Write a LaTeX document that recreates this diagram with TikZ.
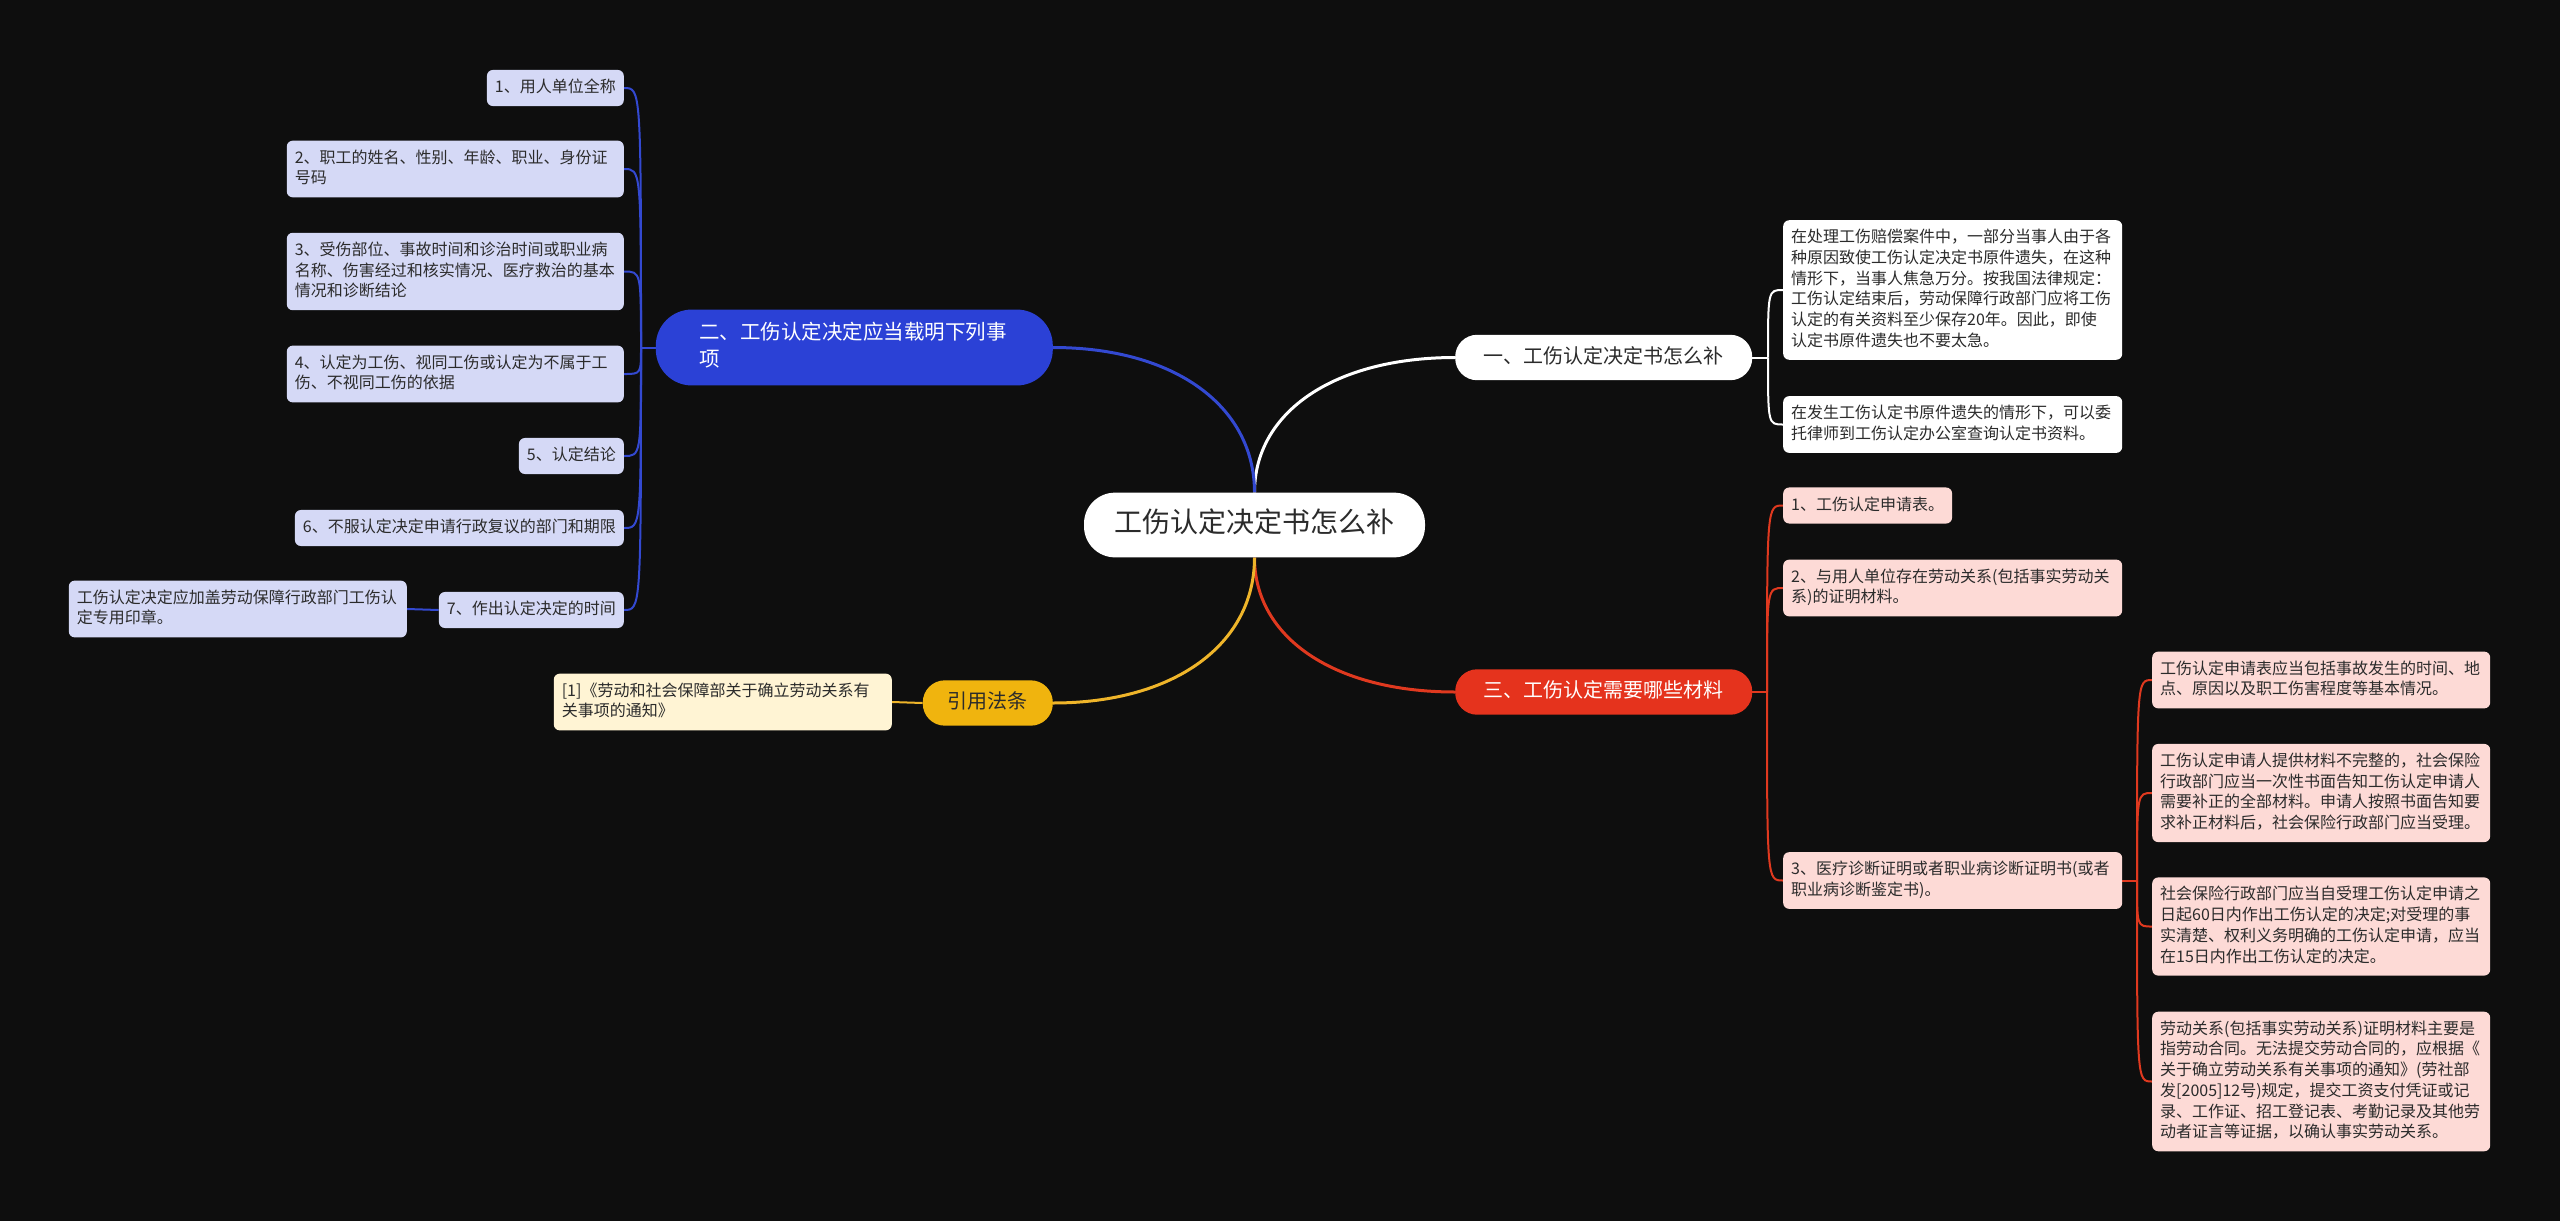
\documentclass[tikz,border=0pt]{standalone}
\usepackage{fontspec}
\setmainfont{Noto Sans CJK SC}
\usetikzlibrary{backgrounds}
\definecolor{bg}{HTML}{0E0E0E}
\definecolor{blueN}{HTML}{2B41D6}
\definecolor{blueL}{HTML}{3349D1}
\definecolor{lav}{HTML}{D5D9F6}
\definecolor{redN}{HTML}{E5331D}
\definecolor{redL}{HTML}{E0391F}
\definecolor{pink}{HTML}{FDDAD6}
\definecolor{yelN}{HTML}{F0B40E}
\definecolor{yelL}{HTML}{EFB52A}
\definecolor{cream}{HTML}{FFF4D4}
\definecolor{txt}{HTML}{2B2B2B}
\newcommand\lfstrut{\rule[-4.5pt]{0pt}{18pt}}
\newcommand\tpstrut{\rule[-5.5pt]{0pt}{22pt}}
\newcommand\rtstrut{\rule[-8pt]{0pt}{31pt}}
\tikzset{
  leaf/.style={rounded corners=6pt, inner xsep=8pt, inner ysep=9pt, text=txt,
    font=\fontsize{16}{20.7}\selectfont,
    execute at begin node=\lfstrut, execute at end node=\lfstrut},
  wbox/.style={text width=#1, align=left},
  topn/.style={rounded corners=22pt, inner xsep=28.5pt, inner ysep=11.5pt,
    font=\fontsize{20}{27}\selectfont,
    execute at begin node=\tpstrut, execute at end node=\tpstrut},
  mainline/.style={line width=3pt},
  subline/.style={line width=2pt},
}
\begin{document}
\begin{tikzpicture}[x=1pt,y=-1pt]
\useasboundingbox (0,0) rectangle (2560,1221);

% root
\node[fill=white, text=txt, rounded corners=31pt, minimum width=341pt, inner xsep=0pt, inner ysep=16.5pt,
  font=\fontsize{28}{34}\selectfont, execute at begin node=\rtstrut] (root) at (1254.5,525) {工伤认定决定书怎么补};

% level 1
\node[topn, fill=white, text=txt, anchor=west] (n1) at (1455,357.5) {一、工伤认定决定书怎么补};
\node[anchor=east, fill=blueN, text=white, text width=310pt, align=left, inner xsep=43.5pt, inner ysep=13pt,
  font=\fontsize{20.5}{27}\selectfont, rounded corners=36pt,
  execute at begin node=\tpstrut, execute at end node=\tpstrut] (n2) at (1053,347.5) {二、工伤认定决定应当载明下列事\\项};
\node[topn, fill=redN, text=white, anchor=west] (n3) at (1455,692) {三、工伤认定需要哪些材料};
\node[topn, fill=yelN, text=txt, anchor=east, inner xsep=25pt] (n4) at (1053,703) {引用法条};

% left leaves
\node[leaf, fill=lav, anchor=east] (l1) at (624,88) {1、用人单位全称};
\node[leaf, fill=lav, anchor=east, wbox=321pt] (l2) at (624,169) {2、职工的姓名、性别、年龄、职业、身份证\\号码};
\node[leaf, fill=lav, anchor=east, wbox=321pt] (l3) at (624,271.5) {3、受伤部位、事故时间和诊治时间或职业病\\名称、伤害经过和核实情况、医疗救治的基本\\情况和诊断结论};
\node[leaf, fill=lav, anchor=east, wbox=321pt] (l4) at (624,374) {4、认定为工伤、视同工伤或认定为不属于工\\伤、不视同工伤的依据};
\node[leaf, fill=lav, anchor=east] (l5) at (624,456) {5、认定结论};
\node[leaf, fill=lav, anchor=east] (l6) at (624,528) {6、不服认定决定申请行政复议的部门和期限};
\node[leaf, fill=lav, anchor=east] (l7) at (624,610) {7、作出认定决定的时间};
\node[leaf, fill=lav, anchor=east, wbox=322pt] (l7a) at (407,609) {工伤认定决定应加盖劳动保障行政部门工伤认\\定专用印章。};

% citation
\node[leaf, fill=cream, anchor=east, wbox=322pt] (c1) at (892,702) {[1]《劳动和社会保障部关于确立劳动关系有\\关事项的通知》};

% right: branch one
\node[leaf, fill=white, anchor=west, wbox=323pt] (r1) at (1783,290) {在处理工伤赔偿案件中，一部分当事人由于各\\种原因致使工伤认定决定书原件遗失，在这种\\情形下，当事人焦急万分。按我国法律规定：\\工伤认定结束后，劳动保障行政部门应将工伤\\认定的有关资料至少保存20年。因此，即使\\认定书原件遗失也不要太急。};
\node[leaf, fill=white, anchor=west, wbox=323pt] (r2) at (1783,424.5) {在发生工伤认定书原件遗失的情形下，可以委\\托律师到工伤认定办公室查询认定书资料。};

% right: branch three
\node[leaf, fill=pink, anchor=west] (p1) at (1783,505.5) {1、工伤认定申请表。};
\node[leaf, fill=pink, anchor=west, wbox=323pt] (p2) at (1783,588) {2、与用人单位存在劳动关系(包括事实劳动关\\系)的证明材料。};
\node[leaf, fill=pink, anchor=west, wbox=323pt] (p3) at (1783,880.5) {3、医疗诊断证明或者职业病诊断证明书(或者\\职业病诊断鉴定书)。};

\node[leaf, fill=pink, anchor=west, wbox=322pt] (q1) at (2152,680) {工伤认定申请表应当包括事故发生的时间、地\\点、原因以及职工伤害程度等基本情况。};
\node[leaf, fill=pink, anchor=west, wbox=322pt] (q2) at (2152,793) {工伤认定申请人提供材料不完整的，社会保险\\行政部门应当一次性书面告知工伤认定申请人\\需要补正的全部材料。申请人按照书面告知要\\求补正材料后，社会保险行政部门应当受理。};
\node[leaf, fill=pink, anchor=west, wbox=322pt] (q3) at (2152,926.5) {社会保险行政部门应当自受理工伤认定申请之\\日起60日内作出工伤认定的决定;对受理的事\\实清楚、权利义务明确的工伤认定申请，应当\\在15日内作出工伤认定的决定。};
\node[leaf, fill=pink, anchor=west, wbox=322pt] (q4) at (2152,1081.5) {劳动关系(包括事实劳动关系)证明材料主要是\\指劳动合同。无法提交劳动合同的，应根据《\\关于确立劳动关系有关事项的通知》(劳社部\\发[2005]12号)规定，提交工资支付凭证或记\\录、工作证、招工登记表、考勤记录及其他劳\\动者证言等证据，以确认事实劳动关系。};

\coordinate (j2) at (641,347.5);
\coordinate (j1) at (1768,357.5);
\coordinate (j3) at (1767,692);
\coordinate (j4) at (2137,880.5);

\begin{pgfonlayer}{background}
\fill[bg] (0,0) rectangle (2560,1221);
% main connectors
\draw[mainline, white] (root.north) .. controls (1254.5,411.7) and (1334.7,357.5) .. (n1.west);
\draw[mainline, blueL] (root.north) .. controls (1254.5,405.7) and (1173.9,347.5) .. (n2.east);
\draw[mainline, redL] (root.south) .. controls (1254.5,638) and (1334.7,692) .. (n3.west);
\draw[mainline, yelL] (root.south) .. controls (1254.5,644.6) and (1173.9,703) .. (n4.east);
% branch two
\draw[subline, blueL] (n2.west) -- (j2);
\foreach \c in {l1,l2,l3,l4,l5,l6,l7}
  \draw[subline, blueL] (j2) .. controls (j2 |- \c.east) .. (\c.east);
\draw[subline, blueL] (l7.west) -- (l7a.east);
% citation
\draw[subline, yelL] (n4.west) -- (c1.east);
% branch one
\draw[subline, white] (n1.east) -- (j1);
\foreach \c in {r1,r2}
  \draw[subline, white] (j1) .. controls (j1 |- \c.west) .. (\c.west);
% branch three
\draw[subline, redL] (n3.east) -- (j3);
\foreach \c in {p1,p2,p3}
  \draw[subline, redL] (j3) .. controls (j3 |- \c.west) .. (\c.west);
\draw[subline, redL] (p3.east) -- (j4);
\foreach \c in {q1,q2,q3,q4}
  \draw[subline, redL] (j4) .. controls (j4 |- \c.west) .. (\c.west);
\end{pgfonlayer}
\end{tikzpicture}
\end{document}
